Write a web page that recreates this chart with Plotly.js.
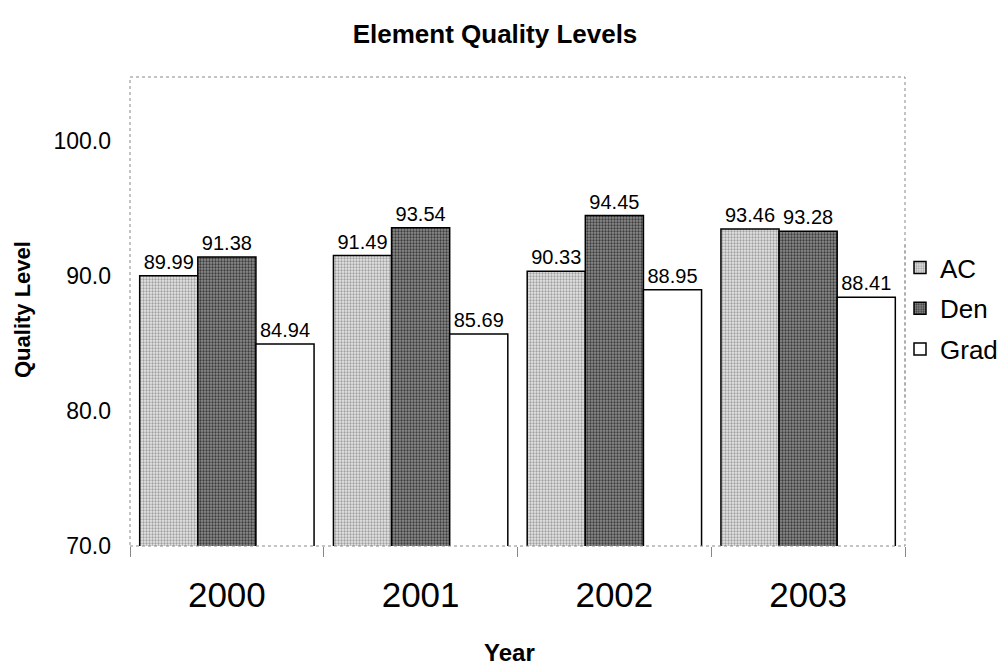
<!DOCTYPE html>
<html>
<head>
<meta charset="utf-8">
<script src="https://cdn.plot.ly/plotly-3.0.1.min.js"></script>
<style>html,body{margin:0;padding:0;background:#fff;}#chart{width:1008px;height:666px;}</style>
</head>
<body>
<div id="chart"></div>
<script>
var years = ['2000', '2001', '2002', '2003'];
var acValues = [89.99, 91.49, 90.33, 93.46];
var denValues = [91.38, 93.54, 94.45, 93.28];
var gradValues = [84.94, 85.69, 88.95, 88.41];
var yTickValues = [70, 80, 90, 100];

var FONT = 'Liberation Sans, Arial, sans-serif';

function bar(name, vals, bg, fg, shape) {
  return {
    type: 'bar', name: name, x: years, y: vals, legendgroup: name,
    text: vals.map(function (v) { return v.toFixed(2); }),
    textposition: 'outside', cliponaxis: false,
    textfont: {family: FONT, size: 20, color: '#000'},
    marker: {
      color: bg,
      line: {color: '#000', width: 1.5},
      pattern: shape ? {shape: shape, fgcolor: fg, bgcolor: bg, size: 3, solidity: 0.45} : undefined
    }
  };
}

var data = [
  bar('AC', acValues, '#e6e6e6', '#a0a0a0', '.'),
  bar('Den', denValues, '#8c8c8c', '#3c3c3c', '.'),
  bar('Grad', gradValues, '#ffffff', '#ffffff', null)
];

var layout = {
  width: 1008, height: 666,
  margin: {l: 130, r: 103, t: 77, b: 120, autoexpand: false},
  paper_bgcolor: '#fff', plot_bgcolor: '#fff',
  font: {family: FONT, color: '#000'},
  title: {text: '<b>Element Quality Levels</b>', font: {family: FONT, size: 26, color: '#000'},
          xref: 'container', x: 495 / 1008, xanchor: 'center', yref: 'container', y: 1 - 34 / 666, yanchor: 'middle'},
  barmode: 'group', bargap: 0.1, bargroupgap: 0,
  showlegend: true,
  legend: {xref: 'container', x: 900 / 1008, xanchor: 'left', yref: 'container', y: 1 - 244 / 666, yanchor: 'top',
           font: {family: FONT, size: 26, color: '#000'},
           bgcolor: 'rgba(0,0,0,0)', borderwidth: 0, tracegroupgap: 4, itemwidth: 30, traceorder: 'grouped'},
  xaxis: {type: 'category', showgrid: false, zeroline: false, showline: false,
          ticks: 'outside', tickson: 'boundaries', ticklen: 10, tickcolor: '#888', tickwidth: 1,
          tickfont: {family: FONT, size: 35, color: '#000'}, ticklabelstandoff: 25, automargin: false},
  yaxis: {range: [70, 104.7], tickvals: yTickValues, ticktext: yTickValues.map(function (v) { return v.toFixed(1); }),
          showgrid: false, zeroline: false, showline: false, ticks: '',
          tickfont: {family: FONT, size: 23, color: '#000'}, ticklabelstandoff: 18, automargin: false},
  shapes: [
    {type: 'rect', xref: 'paper', yref: 'paper', x0: 0, x1: 1, y0: 0, y1: 1,
     line: {color: '#888', width: 1, dash: 'dot'}, layer: 'above'},
    {type: 'line', xref: 'paper', yref: 'paper', x0: 1, x1: 1, y0: (546 - 245) / 469, y1: (546 - 405) / 469,
     line: {color: '#999', width: 1, dash: 'dot'}}
  ],
  annotations: [
    {text: '<b>Year</b>', xref: 'paper', x: 0.49, xanchor: 'center', yref: 'paper', y: -(652 - 546) / 469, yanchor: 'middle',
     showarrow: false, font: {family: FONT, size: 24, color: '#000'}},
    {text: '<b>Quality Level</b>', xref: 'paper', x: -(130 - 22) / 775, xanchor: 'center', yref: 'paper', y: (546 - 310) / 469, yanchor: 'middle',
     textangle: -90, showarrow: false, font: {family: FONT, size: 22, color: '#000'}}
  ]
};

Plotly.newPlot('chart', data, layout, {displayModeBar: false, staticPlot: true});
</script>
</body>
</html>
